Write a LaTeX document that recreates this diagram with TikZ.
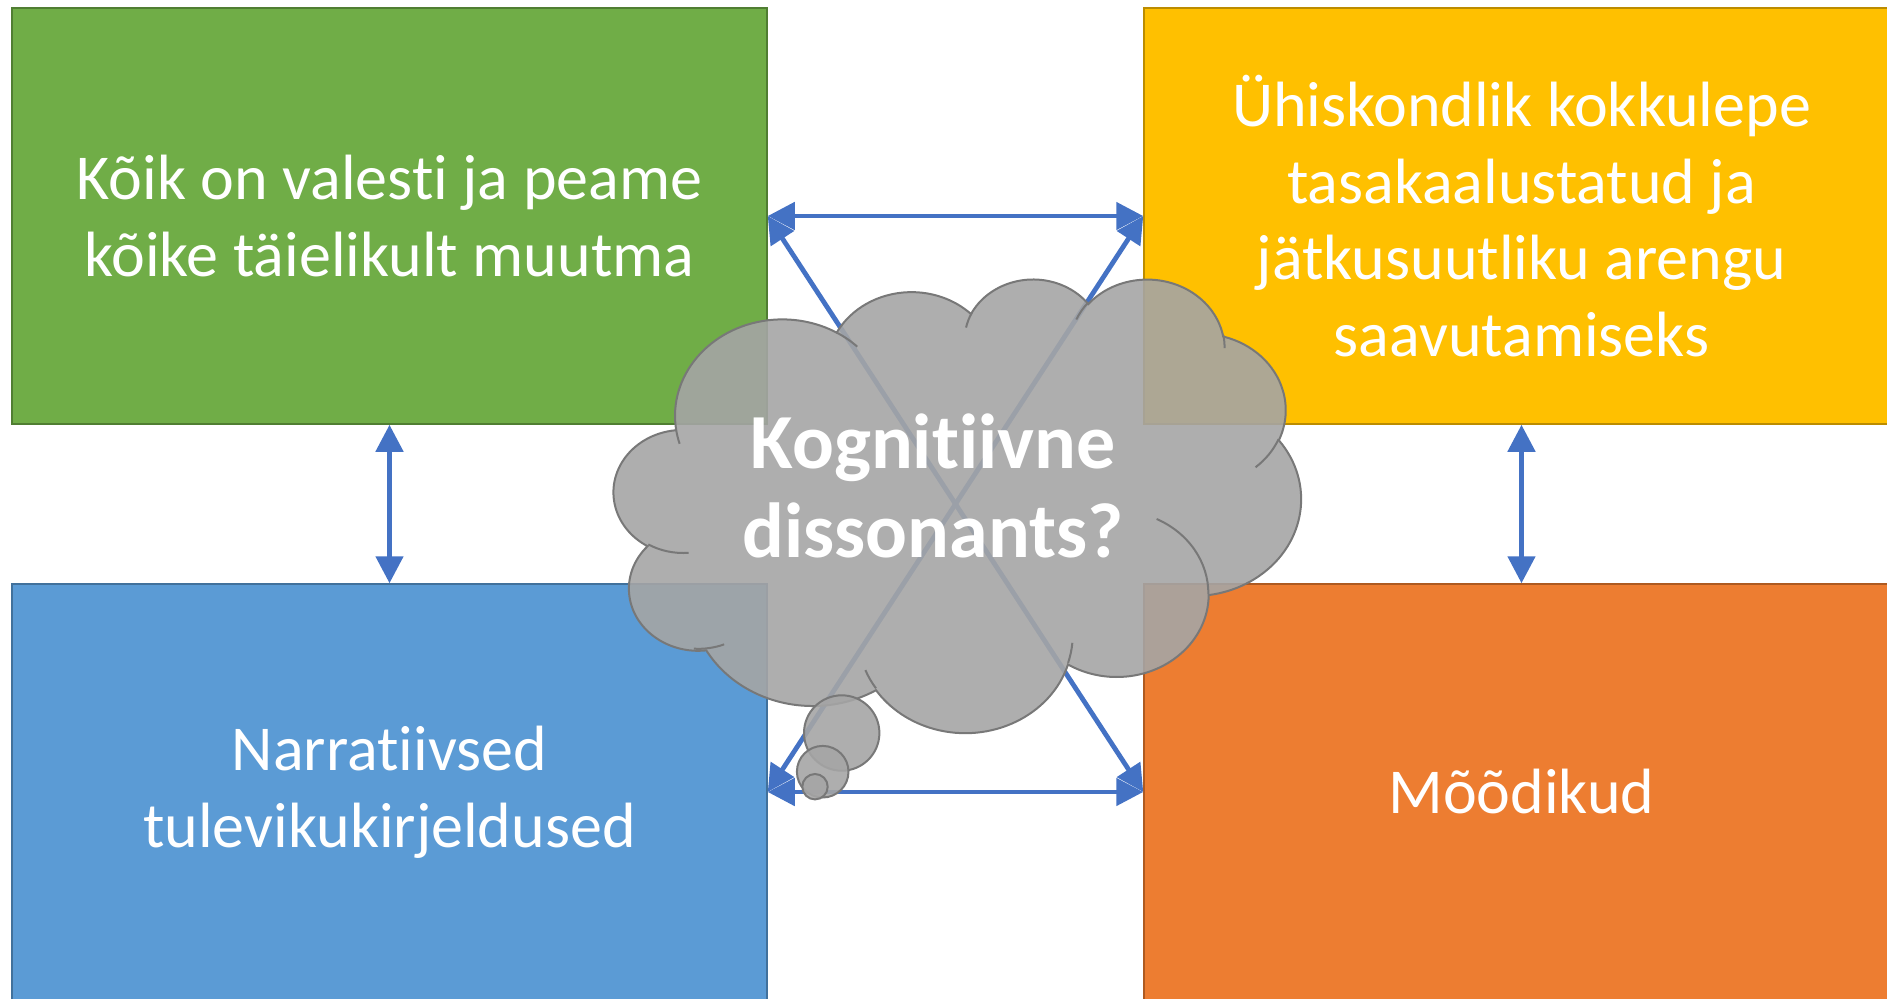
\documentclass[tikz,border=0pt]{standalone}
\usepackage{fontspec}
\setmainfont{Carlito}[Ligatures={NoCommon,NoContextual}]
\usetikzlibrary{arrows.meta}
\definecolor{kgreen}{HTML}{70AD47}
\definecolor{kgreenline}{HTML}{507E32}
\definecolor{kyellow}{HTML}{FFC000}
\definecolor{kyellowline}{HTML}{BC8C00}
\definecolor{kblue}{HTML}{5B9BD5}
\definecolor{kblueline}{HTML}{41719C}
\definecolor{korange}{HTML}{ED7D31}
\definecolor{korangeline}{HTML}{AE5A21}
\definecolor{karrow}{HTML}{4472C4}
\definecolor{kcloud}{HTML}{A5A5A5}
\definecolor{kcloudline}{HTML}{787878}
\tikzset{
  box/.style={draw=#1line, fill=#1, line width=0.75pt, minimum width=377.5pt, minimum height=208pt,
    inner sep=0pt, text=white, align=center, font=\fontsize{32}{38.3}\selectfont},
  link/.style={karrow, line width=2.4pt, {Triangle[length=13.5pt,width=13.5pt]}-{Triangle[length=13.5pt,width=13.5pt]}},
  bubble/.style={draw=kcloudline, fill=kcloud, fill opacity=0.9, line width=1pt},
  declare function={vpar(\a,\rx,\ry)=atan2(\rx*sin(\a),\ry*cos(\a))+360*round((\a-atan2(\rx*sin(\a),\ry*cos(\a)))/360);}
}
% arc of the cloud outline: x radius, y radius, start, sweep (degrees)
\newcommand\cloudarc[4]{arc[x radius=#1, y radius=#2, start angle={vpar(#3,#1,#2)}, end angle={vpar(#3+#4,#1,#2)}]}
\begin{document}
\begin{tikzpicture}[x=0.5pt,y=-0.5pt]
\useasboundingbox (0,0) rectangle (1887,998);
\node[box=kgreen] (green) at (389.5,216) {Kõik on valesti ja peame\\kõike täielikult muutma};
\node[box=kyellow] (yellow) at (1521.5,216) {Ühiskondlik kokkulepe\\tasakaalustatud ja\\jätkusuutliku arengu\\saavutamiseks};
\node[box=kblue] (blue) at (389.5,792) {Narratiivsed\\tulevikukirjeldused};
\node[box=korange] (orange) at (1521.5,792) {Mõõdikud};
\draw[link] (green.east) -- (yellow.west);
\draw[link] (blue.east) -- (orange.west);
\draw[link] (green.south) -- (blue.north);
\draw[link] (yellow.south) -- (orange.north);
\draw[link] (green.east) -- (orange.west);
\draw[link] (yellow.west) -- (blue.east);
% the thought cloud
\begin{scope}[shift={(614,278)}, x=0.0079514pt, y=-0.0052431pt]
\draw[bubble] (3900,14370) \cloudarc{6753}{9190}{-190.4875}{123.7805}
  \cloudarc{5333}{7267}{-144.1024}{89.9452}
  \cloudarc{4365}{5945}{-145.8079}{99.7230}
  \cloudarc{4857}{6595}{-130.9861}{117.2417}
  \cloudarc{5333}{7273}{-78.7089}{109.0269}
  \cloudarc{6775}{9220}{-46.2673}{130.269}
  \cloudarc{5785}{7867}{0.625}{114.0333}
  \cloudarc{6752}{9215}{22.4516}{115.1726}
  \cloudarc{7720}{10543}{66.2426}{75.711}
  \cloudarc{4360}{5918}{-274.9421}{146.7356}
  \cloudarc{4345}{5945}{-246.8285}{152.5189} -- cycle;
\end{scope}
\draw[bubble] (841.7,733) circle[radius=37.7];
\draw[bubble] (822.7,771.7) circle[radius=25.8];
\draw[bubble] (815,786.7) circle[radius=12.7];
\begin{scope}[shift={(614,278)}, x=0.0079514pt, y=-0.0052431pt]
\draw[kcloudline, line width=1pt]
  (4693,26177) \cloudarc{4345}{5945}{86.742}{26.4295}
  (6928,34899) \cloudarc{4360}{5918}{73.6105}{19.1381}
  (16478,39090) \cloudarc{6752}{9215}{137.6242}{14.0811}
  (28827,34751) \cloudarc{6752}{9215}{6.4533}{15.9984}
  (34129,22954) \cloudarc{5785}{7867}{-70.2924}{70.9174}
  (41798,15354) \cloudarc{5333}{7273}{30.318}{27.7515}
  (38324,5426) \cloudarc{4857}{6595}{-13.7443}{14.8589}
  (29078,3952) \cloudarc{4857}{6595}{-149.1815}{18.1954}
  (22141,4720) \cloudarc{4365}{5945}{-163.4943}{17.6864}
  (14000,5192) \cloudarc{6753}{9190}{-66.707}{12.3194}
  (4127,15789) \cloudarc{6753}{9190}{157.6544}{11.8582};
\end{scope}
\node[text=white, font=\fontsize{39}{44.5}\selectfont\bfseries, align=center] (dissonance) at (933,486) {Kognitiivne\\dissonants?};
\end{tikzpicture}
\end{document}
